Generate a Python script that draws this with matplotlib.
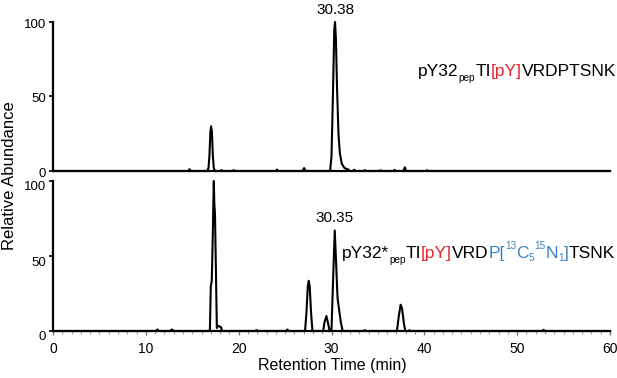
import matplotlib
matplotlib.use("Agg")
import matplotlib.pyplot as plt
from matplotlib.ticker import MultipleLocator
from matplotlib.transforms import IdentityTransform, ScaledTranslation

plt.rcParams['font.family'] = ['Liberation Sans', 'DejaVu Sans']

# extracted ion chromatograms (time in min, relative abundance in %)
top_time = [0, 14.55, 14.7, 14.85, 16.6, 16.75, 16.85, 16.95, 17.03, 17.12, 17.22, 17.32, 17.45,
            18.0, 18.15, 18.3, 19.3, 19.45, 19.6, 24.0, 24.12, 24.25, 26.9, 27.05, 27.2,
            29.85, 30.0, 30.15, 30.3, 30.38, 30.48, 30.6, 30.75, 30.9, 31.1, 31.4, 31.8, 32.0,
            32.3, 32.45, 32.6, 33.5, 33.6, 33.7, 35.2, 35.3, 35.4, 36.7, 36.8, 36.9,
            37.75, 37.9, 38.05, 40.2, 40.3, 40.4, 60]
top_abund = [0, 0, 1.2, 0, 0, 2, 10, 26, 30, 26, 10, 2, 0,
             0, 0.6, 0, 0, 0.5, 0, 0, 1, 0, 0, 2, 0,
             0, 10, 50, 95, 100, 88, 55, 25, 12, 5, 2, 1, 0,
             0, 0.8, 0, 0, 0.6, 0, 0, 0.5, 0, 0, 0.8, 0,
             0, 2.5, 0, 0, 0.5, 0, 0]

bot_time = [0, 11.1, 11.25, 11.4, 12.6, 12.8, 13.0, 16.7, 16.9, 17.0, 17.1, 17.2, 17.32, 17.38,
            17.45, 17.55, 17.65, 17.75, 17.95, 18.1, 18.2, 21.8, 21.9, 22.05, 25.1, 25.25, 25.4,
            27.15, 27.3, 27.45, 27.55, 27.65, 27.8, 27.95, 29.1, 29.25, 29.45, 29.6, 29.8,
            30.0, 30.15, 30.35, 30.5, 30.65, 30.8, 31.0, 31.2, 33.5, 33.6, 33.7,
            37.05, 37.25, 37.45, 37.6, 37.8, 37.95, 38.3, 38.4, 38.5, 52.7, 52.85, 53.0, 60]
bot_abund = [0, 0, 1, 0, 0, 1, 0, 0, 0.5, 30, 33, 60, 100, 85,
             78, 40, 2, 3.5, 3, 2.5, 0, 0, 0.6, 0, 0, 1, 0,
             0, 12, 30, 33.5, 30, 12, 0, 0, 6, 10, 6, 0,
             1, 30, 67, 45, 22, 15, 6, 0, 0, 0.6, 0,
             0, 10, 17.5, 15, 5, 0, 0, 0.5, 0, 0, 0.8, 0, 0]

top_apex = (30.38, 100, '30.38')
bot_apex = (30.35, 67, '30.35')

red = '#e3262b'
blue = '#3b82c4'
top_label = [('pY32', 'k', 'n'), ('pep', 'k', 'sub'), ('TI', 'k', 'n'), ('[pY]', red, 'n'),
             ('VRDPTSNK', 'k', 'n')]
bot_label = [('pY32*', 'k', 'n'), ('pep', 'k', 'sub'), ('TI', 'k', 'n'), ('[pY]', red, 'n'),
             ('VRD', 'k', 'n'), ('P[', blue, 'n'), ('13', blue, 'sup'), ('C', blue, 'n'),
             ('5', blue, 'lo'), ('15', blue, 'sup'), ('N', blue, 'n'), ('1', blue, 'lo'),
             (']', blue, 'n'), ('TSNK', 'k', 'n')]

W, H = 617, 378
fig = plt.figure(figsize=(W / 100, H / 100), dpi=100)
ax1 = fig.add_axes([53 / W, 1 - 171 / H, 557 / W, 149 / H])
ax2 = fig.add_axes([53 / W, 1 - 331 / H, 557 / W, 150 / H])

panels = [(ax1, top_time, top_abund, top_apex, 1.5), (ax2, bot_time, bot_abund, bot_apex, 5)]
for ax, t, a, apex, drop in panels:
    ax.plot(t, a, color='k', lw=1.5, clip_on=False, solid_joinstyle='round')
    ax.set_xlim(0, 60)
    ax.set_ylim(0, 100)
    ax.set_yticks([0, 50, 100])
    for s in ['top', 'right']:
        ax.spines[s].set_visible(False)
    for s in ['left', 'bottom']:
        ax.spines[s].set_linewidth(1.6)
    ax.tick_params(axis='y', length=3, width=1.2, pad=2, labelsize=9.5)
    # y tick labels sit a few pixels below their ticks in the original
    down = ScaledTranslation(0, -drop / 100, fig.dpi_scale_trans)
    for lbl in ax.get_yticklabels():
        lbl.set_transform(lbl.get_transform() + down)
    ax.annotate(apex[2], (apex[0], apex[1]), xytext=(0, 8), textcoords='offset pixels',
                ha='center', va='baseline', fontsize=11)

ax1.tick_params(axis='x', bottom=False, labelbottom=False)
ax2.xaxis.set_major_locator(MultipleLocator(10))
ax2.xaxis.set_minor_locator(MultipleLocator(1))
ax2.tick_params(axis='x', which='major', length=3, width=1, color='#777777', pad=5, labelsize=10)
ax2.tick_params(axis='x', which='minor', length=2, width=0.8, color='#999999')

fig.text(9.5 / W, 1 - 176 / H, 'Relative Abundance', rotation=90, ha='center', va='center',
         fontsize=12)
fig.text(332 / W, 1 - 370 / H, 'Retention Time (min)', ha='center', va='baseline', fontsize=11.5)


def rich_text(parts, x_right, y_base, size=12.5):
    renderer = fig.canvas.get_renderer()
    shift = {'n': 0, 'sub': -5, 'lo': -3, 'sup': 9}
    items = []
    for s, color, kind in parts:
        fs = size if kind == 'n' else size * 0.58
        txt = fig.text(0, 0, s, color=color, fontsize=fs, ha='left', va='baseline',
                       transform=IdentityTransform())
        items.append((txt, shift[kind]))
    widths = [txt.get_window_extent(renderer).width for txt, _ in items]
    x = x_right - sum(widths)
    for (txt, dy), w in zip(items, widths):
        txt.set_position((x, H - y_base + dy))
        x += w


rich_text(top_label, 616, 76)
rich_text(bot_label, 615, 258)

fig.savefig('out.png', dpi=100)
